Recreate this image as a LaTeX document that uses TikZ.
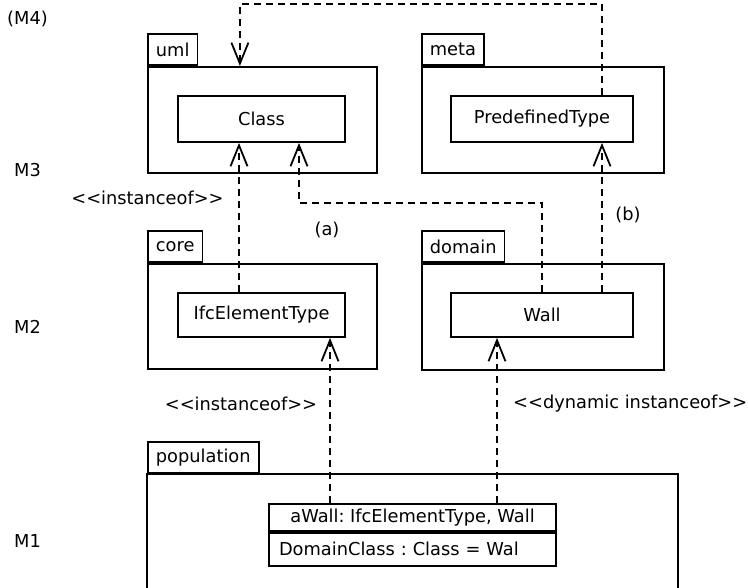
\documentclass[tikz,border=0pt]{standalone}
\usepackage{fontspec}
\setmainfont{DejaVu Sans}
\usetikzlibrary{arrows.meta}
\frenchspacing

\tikzset{
  every node/.style={font=\fontsize{17.8}{21}\selectfont},
  cls/.style={draw, line width=1.8pt, minimum width=167pt, minimum height=46pt, inner sep=2pt},
  pkgtab/.style={draw, line width=1.8pt, minimum height=31pt, inner xsep=8pt, inner ysep=0pt, anchor=south west},
  pkgbody/.style={draw, line width=1.8pt, anchor=north west, inner sep=0pt},
  dep/.style={line width=1.8pt, dash pattern=on 7pt off 5pt,
    -{Straight Barb[length=21pt, width=17pt, line width=1.8pt]}},
  lvl/.style={anchor=west, inner sep=0pt},
}

\begin{document}
\begin{tikzpicture}[x=1pt, y=-1pt]
  \useasboundingbox (0,0) rectangle (748,588);

  % levels
  \node[lvl] (m4) at (7,19) {(M4)};
  \node[lvl] (m3) at (14,170) {M3};
  \node[lvl] (m2) at (14,327) {M2};
  \node[lvl] (m1) at (14,541) {M1};

  % M3 packages
  \node[pkgtab] (umltab) at (147,66) {uml};
  \node[pkgbody, minimum width=229pt, minimum height=106pt] (umlpkg) at (147,66) {};
  \node[cls] (class) at (261.5,119) {Class};
  \node[pkgtab] (metatab) at (421,66) {meta};
  \node[pkgbody, minimum width=242pt, minimum height=106pt] (metapkg) at (421,66) {};
  \node[cls, minimum width=182pt] (predef) at (542,119) {PredefinedType};

  % M2 packages
  \node[pkgtab] (coretab) at (147,263) {core};
  \node[pkgbody, minimum width=229pt, minimum height=105pt] (corepkg) at (147,263) {};
  \node[cls, minimum height=44pt] (ifc) at (261.5,315) {IfcElementType};
  \node[pkgtab] (domaintab) at (421,263) {domain};
  \node[pkgbody, minimum width=242pt, minimum height=106pt] (domainpkg) at (421,263) {};
  \node[cls, minimum width=182pt, minimum height=44pt] (wall) at (542,315) {Wall};

  % M1 package
  \node[pkgtab] (poptab) at (147,474) {population};
  \draw[line width=1.8pt] (147,600) |- (678,474) -- (678,600);
  \node[draw, line width=1.8pt, minimum width=287pt, minimum height=27pt, inner sep=0pt] (objhead) at (412.5,517.5) {aWall: IfcElementType, Wall};
  \node[draw, line width=1.8pt, minimum height=33pt, text width=267pt, inner xsep=10pt, inner ysep=0pt, align=left, anchor=north] (objbody) at (objhead.south) {DomainClass : Class = Wal};

  % anchors for the connectors
  \coordinate (ifcin) at ([xshift=68.5pt]ifc.south);
  \coordinate (wallin) at ([xshift=-45pt]wall.south);

  % dependencies
  \draw[dep] ([xshift=60pt]predef.north) -- ++(0,-91) -| ([xshift=-22.5pt]umlpkg.north);
  \draw[dep] ([xshift=-22.5pt]ifc.north) -- ([xshift=-22.5pt]class.south);
  \draw[dep] (wall.north) |- ([xshift=37.5pt, yshift=-60pt]class.south) -- ([xshift=37.5pt]class.south);
  \draw[dep] ([xshift=60pt]wall.north) -- ([xshift=60pt]predef.south);
  \draw[dep] (ifcin |- objhead.north) -- (ifcin);
  \draw[dep] (wallin |- objhead.north) -- (wallin);

  % labels
  \node (inst1) at (147.5,198) {<{}<instanceof>{}>};
  \node (la) at (327,230) {(a)};
  \node (lb) at (628,215) {(b)};
  \node (inst2) at (241,404) {<{}<instanceof>{}>};
  \node[lvl] (dyninst) at (513,404) {<{}<dynamic instanceof>{}>};
\end{tikzpicture}
\end{document}
